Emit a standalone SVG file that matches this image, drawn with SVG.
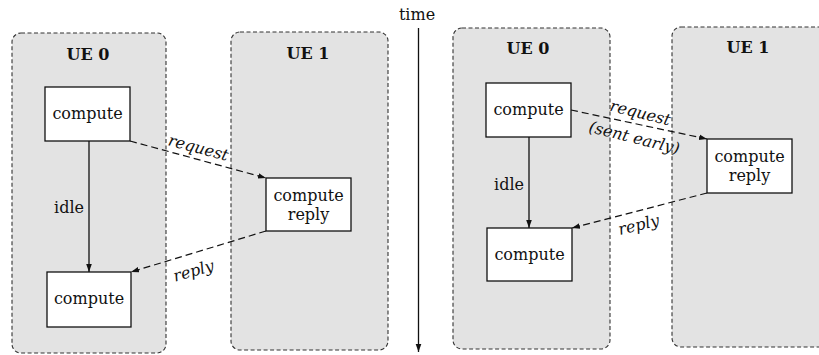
<svg xmlns="http://www.w3.org/2000/svg" width="819" height="355" viewBox="0 0 819 355">
<defs>
<style>
.ue{fill:#e3e3e3;stroke:#333;stroke-width:1.1;stroke-dasharray:4 2.5}
.box{fill:#fff;stroke:#111;stroke-width:1.3}
.t{font-family:"DejaVu Serif","Liberation Serif",serif;font-size:16px;fill:#111;text-anchor:middle}
.b{font-weight:bold}
.i{font-style:italic}
.solid{stroke:#111;stroke-width:1.3;fill:none}
.dash{stroke:#111;stroke-width:1.2;fill:none;stroke-dasharray:7 4}
</style>
<marker id="ah" viewBox="0 0 10 10" refX="10" refY="5" markerWidth="8" markerHeight="8" markerUnits="userSpaceOnUse" orient="auto">
<path d="M0,1.5 L10,5 L0,8.5 z" fill="#111"/>
</marker>
</defs>
<rect width="819" height="355" fill="#fff"/>

<g id="ue0-left"><rect class="ue" x="12" y="33" width="154" height="320" rx="9"/><text class="t b" x="88" y="60">UE 0</text></g>
<g id="ue1-left"><rect class="ue" x="231" y="32" width="157" height="318" rx="9"/><text class="t b" x="308" y="59">UE 1</text></g>
<g id="ue0-right"><rect class="ue" x="453" y="28" width="157" height="321" rx="9"/><text class="t b" x="528" y="54">UE 0</text></g>
<g id="ue1-right"><rect class="ue" x="672" y="27" width="160" height="320" rx="9"/><text class="t b" x="748" y="53">UE 1</text></g>

<g id="time"><text class="t" x="417" y="20">time</text></g>

<g id="connectors">
<line class="solid" x1="418.5" y1="28" x2="418.5" y2="352" marker-end="url(#ah)"/>
<line class="solid" x1="89" y1="141" x2="89" y2="272" marker-end="url(#ah)"/>
<line class="dash" x1="130" y1="141" x2="266" y2="178" marker-end="url(#ah)"/>
<line class="dash" x1="266" y1="231" x2="131" y2="272" marker-end="url(#ah)"/>
<line class="solid" x1="529" y1="137" x2="529" y2="228" marker-end="url(#ah)"/>
<line class="dash" x1="571" y1="110" x2="707" y2="139" marker-end="url(#ah)"/>
<line class="dash" x1="707" y1="193" x2="572" y2="228" marker-end="url(#ah)"/>
<text class="t" x="69" y="213">idle</text>
<text class="t" x="509" y="190">idle</text>
<text class="t i" transform="translate(197,153) rotate(15)">request</text>
<text class="t i" transform="translate(195,276) rotate(-16)">reply</text>
<text class="t i" transform="translate(639,118) rotate(14)">request</text>
<text class="t i" transform="translate(633,143) rotate(14)">(sent early)</text>
<text class="t i" transform="translate(640,230) rotate(-14)">reply</text>
</g>

<g id="compute-l1"><rect class="box" x="45" y="87" width="85" height="54"/><text class="t" x="87.5" y="119">compute</text></g>
<g id="compute-l2"><rect class="box" x="47" y="272" width="84" height="55"/><text class="t" x="89" y="304">compute</text></g>
<g id="reply-l"><rect class="box" x="266" y="178" width="85" height="53"/><text class="t" x="308.5" y="201">compute</text><text class="t" x="308.5" y="220">reply</text></g>

<g id="compute-r1"><rect class="box" x="486" y="83" width="85" height="54"/><text class="t" x="528.5" y="115">compute</text></g>
<g id="compute-r2"><rect class="box" x="487" y="228" width="85" height="53"/><text class="t" x="529.5" y="260">compute</text></g>
<g id="reply-r"><rect class="box" x="707" y="139" width="85" height="54"/><text class="t" x="749.5" y="162">compute</text><text class="t" x="749.5" y="181">reply</text></g>
</svg>
